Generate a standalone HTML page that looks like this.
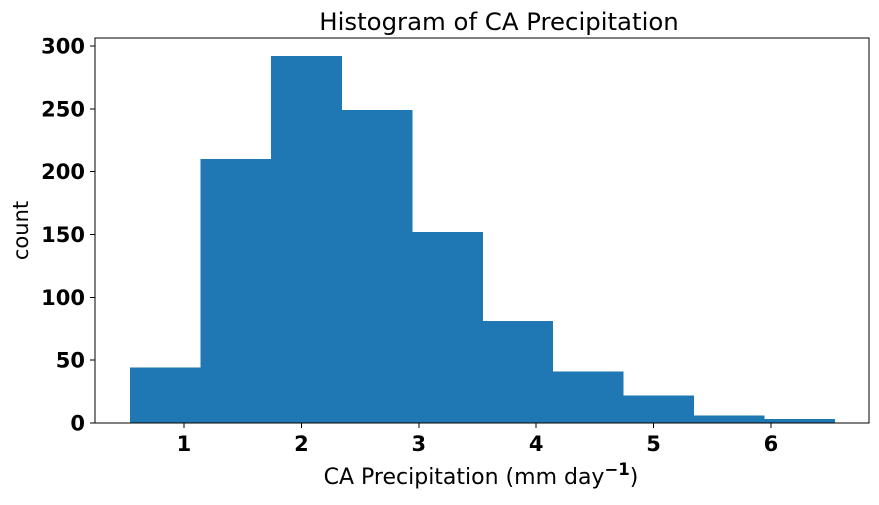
<!DOCTYPE html>
<html><head><meta charset="utf-8"><style>
body{margin:0;background:#fff;width:879px;height:501px;overflow:hidden;font-family:"DejaVu Sans","Liberation Sans",sans-serif}
text{font-family:"DejaVu Sans","Liberation Sans",sans-serif}
</style></head><body>
<svg id="chart" width="879" height="501" xmlns="http://www.w3.org/2000/svg" shape-rendering="crispEdges"></svg>
<script>
const binEdges=[0.54,1.14,1.74,2.34,2.94,3.54,4.14,4.74,5.34,5.94,6.54];
const counts=[44,210,292,249,152,81,41,22,6,3];
const xTicks=[1,2,3,4,5,6];
const yTicks=[0,50,100,150,200,250,300];
const L=95,R=869,T=38,B=423,xmin=0.242,xmax=6.835,ymin=0,ymax=306.3;
const X=v=>L+(v-xmin)/(xmax-xmin)*(R-L);
const Y=v=>B-(v-ymin)/(ymax-ymin)*(B-T);
const svg=document.getElementById('chart');const NS='http://www.w3.org/2000/svg';
function mk(t,a,p){const e=document.createElementNS(NS,t);for(const k in a)e.setAttribute(k,a[k]);(p||svg).appendChild(e);return e;}
counts.forEach((c,i)=>{const x0=X(binEdges[i]);const r=mk('rect',{x:x0,y:Y(c),width:X(binEdges[i+1])-x0+0.6,height:Y(0)-Y(c),fill:'#1f77b4'});

});
const fr=mk('rect',{x:L,y:T,width:R-L,height:B-T,fill:'none',stroke:'#000','stroke-width':1});


xTicks.forEach(v=>{mk('line',{x1:X(v),x2:X(v),y1:B,y2:B+5,stroke:'#000'});
const t=mk('text',{x:X(v),y:B+28,'text-anchor':'middle','font-size':21,'font-weight':'bold'});t.textContent=v;

});
yTicks.forEach(v=>{mk('line',{x1:L-5,x2:L,y1:Y(v),y2:Y(v),stroke:'#000'});
const t=mk('text',{x:L-10,y:Y(v)+7.5,'text-anchor':'end','font-size':21,'font-weight':'bold'});t.textContent=v;

});
const ti=mk('text',{x:499,y:30,'text-anchor':'middle','font-size':24.4});ti.textContent='Histogram of CA Precipitation';


const xl=mk('text',{x:481,y:484,'text-anchor':'middle','font-size':22});
xl.innerHTML='CA Precipitation (mm day<tspan dy="-9" font-size="16.5" font-weight="bold">−1</tspan><tspan dy="9">)</tspan>';


const yl=mk('text',{x:0,y:0,'text-anchor':'middle','font-size':21,transform:'translate(28,'+((T+B)/2)+') rotate(-90)'});yl.textContent='count';


</script>
</body></html>
